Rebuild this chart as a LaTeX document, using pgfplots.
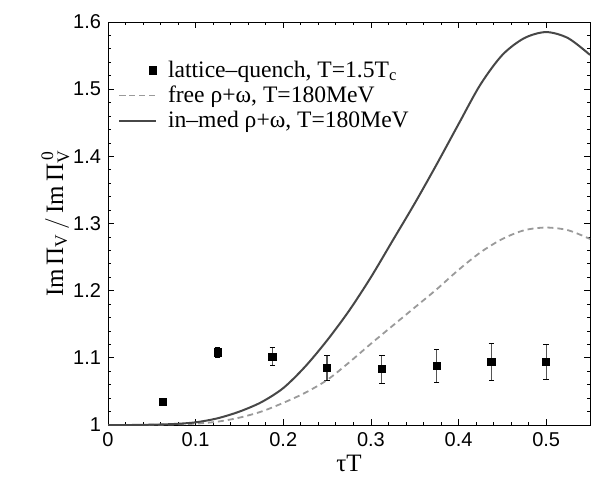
\documentclass[border=0pt]{standalone}
\usepackage{fontspec}
\setmainfont{Liberation Serif}
\newfontfamily\tickfont{Liberation Sans}
\usepackage{amsmath}
\usepackage{pgfplots}
\pgfplotsset{compat=1.18}
\pgfplotsset{
  linelegend/.style={legend image code/.code={\draw[##1] plot coordinates {(0cm,0cm) (0.65cm,0cm)};}},
  marklegend/.style={legend image code/.code={\draw[##1] plot coordinates {(0.6cm,0cm)};}},
}
\definecolor{solidgray}{HTML}{474747}
\definecolor{dashgray}{HTML}{9A9A9A}
\definecolor{errgray}{HTML}{555555}
\pgfplotstableread{
x y e
0.0625 1.035 0.002
0.125 1.108 0.008
0.1875 1.102 0.013
0.25 1.085 0.018
0.3125 1.083 0.021
0.375 1.088 0.024
0.4375 1.094 0.027
0.5 1.094 0.026
}\lattice
\pgfplotstableread{
x y
0 1.000
0.025 1.000
0.05 1.0003
0.075 1.001
0.1 1.002
0.125 1.005
0.15 1.011
0.175 1.020
0.2 1.033
0.225 1.048
0.25 1.067
0.275 1.093
0.3 1.121
0.325 1.148
0.35 1.175
0.375 1.202
0.4 1.231
0.425 1.257
0.45 1.277
0.475 1.290
0.5 1.294
0.525 1.290
0.55 1.277
}\free
\pgfplotstableread{
x y
0 1.000
0.025 1.000
0.05 1.0005
0.075 1.0015
0.1 1.004
0.125 1.010
0.15 1.020
0.175 1.034
0.2 1.055
0.225 1.087
0.25 1.126
0.275 1.170
0.3 1.220
0.325 1.275
0.35 1.330
0.375 1.388
0.4 1.448
0.425 1.507
0.45 1.551
0.475 1.576
0.5 1.585
0.525 1.576
0.55 1.551
}\inmed
\begin{document}
\begin{tikzpicture}
\useasboundingbox (-54pt,-27pt) rectangle (242pt,212.5pt);
\begin{axis}[
  at={(0,0)}, anchor=south west,
  scale only axis, width=241pt, height=201.5pt,
  xmin=0, xmax=0.55, ymin=1, ymax=1.6,
  xtick={0,0.1,0.2,0.3,0.4,0.5},
  ytick={1,1.1,1.2,1.3,1.4,1.5,1.6},
  minor x tick num=4, minor y tick num=4,
  tick align=inside, major tick length=3pt, minor tick length=1.6pt,
  every tick/.style={black, line width=0.4pt},
  axis line style={line width=0.5pt},
  /pgf/number format/.cd, fixed, precision=1, assume math mode=true, /pgfplots/.cd,
  ticklabel style={font=\tickfont\fontsize{10}{12}\selectfont},
  xlabel={τT},
  ylabel={$\text{Im}\,\text{Π}_{\text{V}}\,/\,\text{Im}\,\text{Π}^{\,\text{0}}_{\text{V}}$},
  label style={font=\fontsize{12.5}{15}\selectfont},
  ylabel style={yshift=-5pt},
  xlabel style={inner sep=1pt},
  legend cell align=left,
  legend style={draw=none, fill=none, at={(0.02,0.915)}, anchor=north west,
    font=\fontsize{11.8}{14}\selectfont, row sep=-1.2pt, column sep=3.5pt, inner sep=0pt},
]
\addplot[only marks, mark=square*, mark size=1.8pt, black, marklegend,
  error bars/.cd, y dir=both, y explicit,
  error bar style={errgray, line width=0.6pt},
  error mark options={rotate=90, mark size=1.4pt, black, line width=0.5pt}]
  table[x=x, y=y, y error=e] {\lattice};
\addlegendentry{lattice–quench, T=1.5T\textsubscript{c}}
\addplot[dashgray, line width=0.9pt, dash pattern=on 3pt off 2pt, smooth, linelegend] table[x=x,y=y] {\free};
\addlegendentry{free ρ+ω, T=180MeV}
\addplot[solidgray, line width=1pt, smooth, linelegend] table[x=x,y=y] {\inmed};
\addlegendentry{in–med ρ+ω, T=180MeV}
\end{axis}
\end{tikzpicture}
\end{document}
